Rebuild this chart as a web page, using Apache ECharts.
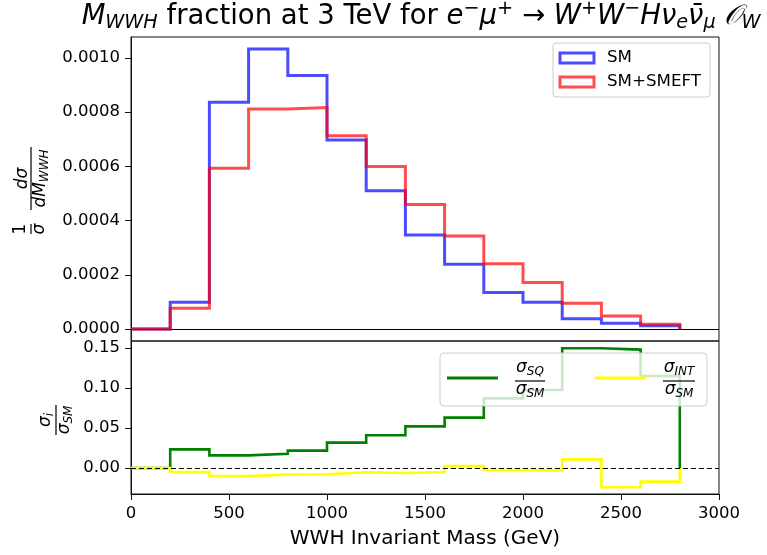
<!DOCTYPE html>
<html>
<head>
<meta charset="utf-8">
<script src="https://cdn.jsdelivr.net/npm/echarts@6/dist/echarts.min.js"></script>
<style>
html,body{margin:0;padding:0;background:#fff;}
#chart{width:767px;height:555px;}
</style>
</head>
<body>
<div id="chart"></div>
<script>
// ---- data ----
const binEdges = [0, 200, 400, 600, 800, 1000, 1200, 1400, 1600, 1800, 2000, 2200, 2400, 2600, 2800];
const smFraction = [0, 0.0000985, 0.000837, 0.001033, 0.000935, 0.000697, 0.000510, 0.000347, 0.000239, 0.000135, 0.0000985, 0.000038, 0.000021, 0.000012];
const smeftFraction = [0, 0.0000763, 0.000593, 0.000812, 0.000817, 0.000713, 0.000600, 0.000459, 0.000343, 0.000241, 0.000172, 0.0000948, 0.000048, 0.0000173];
const sqRatio = [0, 0.0233, 0.0158, 0.0179, 0.0217, 0.0317, 0.0410, 0.0520, 0.0630, 0.0870, 0.0975, 0.1496, 0.1480, 0.1150];
const intRatio = [0, -0.0050, -0.0100, -0.0083, -0.0079, -0.0054, -0.0063, -0.0050, 0.0025, -0.0025, -0.0033, 0.0108, -0.0240, -0.0170];
const xTicks = [0, 500, 1000, 1500, 2000, 2500, 3000];
const yTicksTop = [0, 0.0002, 0.0004, 0.0006, 0.0008, 0.0010];
const yTicksBottom = [0, 0.05, 0.10, 0.15];
const seriesNames = ['SM', 'SM+SMEFT'];

// histogram outline (step) built from bin edges and bin values
function histPath(values) {
  const pts = [];
  values.forEach((v, i) => {
    pts.push([binEdges[i], v]);
    pts.push([binEdges[i + 1], v]);
  });
  pts.push([binEdges[values.length], 0]);
  return pts;
}

const FONT = 'DejaVu Sans';
const BLUE = 'rgba(0,0,255,0.7)';
const RED = 'rgba(255,0,0,0.7)';
const ZTOP = 100;

const mathRich = {
  i: {fontFamily: FONT, fontStyle: 'italic', fontSize: 17, lineHeight: 20, color: '#000'},
  n: {fontFamily: FONT, fontSize: 17, lineHeight: 20, color: '#000'},
  s: {fontFamily: FONT, fontStyle: 'italic', fontSize: 12, lineHeight: 20, height: 12, verticalAlign: 'bottom', color: '#000'}
};
function mtext(x, y, text) {
  return {type: 'text', x: x, y: y, z: ZTOP + 2, style: {text: text, rich: mathRich, align: 'center', textAlign: 'center', verticalAlign: 'middle', textVerticalAlign: 'middle', fill: '#000'}};
}
function mline(x1, y1, x2, y2) {
  return {type: 'line', z: ZTOP + 2, shape: {x1: x1, y1: y1, x2: x2, y2: y2}, style: {stroke: '#000', lineWidth: 1.2}};
}

const titleRich = {
  n: {fontFamily: FONT, fontSize: 27.5, lineHeight: 30, color: '#000'},
  i: {fontFamily: FONT, fontStyle: 'italic', fontSize: 27.5, lineHeight: 30, color: '#000'},
  sub: {fontFamily: FONT, fontStyle: 'italic', fontSize: 19.2, lineHeight: 30, height: 18, verticalAlign: 'bottom', color: '#000'},
  sup: {fontFamily: FONT, fontSize: 19.2, lineHeight: 30, height: 14, verticalAlign: 'top', color: '#000'}
};
const titleText = '{i|M}{sub|WWH}{n| fraction at 3 TeV for }{i|e}{sup|−}{i|μ}{sup|+}{n| → }{i|W}{sup|+}{i|W}{sup|−}{i|Hν}{sub|e}{i|ν̄}{sub|μ}{n| }{i|𝒪}{sub|W}';

const axisText = {color: '#000', fontFamily: FONT, fontSize: 16.5};

const chart = echarts.init(document.getElementById('chart'), null, {renderer: 'canvas'});
chart.setOption({
  animation: false,
  backgroundColor: '#fff',
  grid: [
    {left: 131, right: 48, top: 37, height: 304, show: true, borderColor: '#111', borderWidth: 1, backgroundColor: 'transparent', outerBoundsMode: 'none', containLabel: false},
    {left: 131, right: 48, top: 341, height: 153, show: true, borderColor: '#111', borderWidth: 1, backgroundColor: 'transparent', outerBoundsMode: 'none', containLabel: false}
  ],
  legend: {
    data: [
      {name: seriesNames[0], icon: 'rect', itemStyle: {color: '#fff', borderColor: BLUE, borderWidth: 3}},
      {name: seriesNames[1], icon: 'rect', itemStyle: {color: '#fff', borderColor: RED, borderWidth: 3}}
    ],
    orient: 'vertical',
    left: 553, top: 43,
    padding: [5, 9, 5, 5.5],
    itemGap: 4,
    itemWidth: 34, itemHeight: 10,
    backgroundColor: 'rgba(255,255,255,0.8)',
    borderColor: '#cccccc', borderWidth: 1, borderRadius: 3,
    textStyle: {color: '#000', fontFamily: FONT, fontSize: 16.7, padding: [0, 0, 0, 8], lineHeight: 20},
    selectedMode: false
  },
  xAxis: [
    {gridIndex: 0, type: 'value', min: 0, max: 3000, interval: 500,
     axisLine: {show: false}, axisTick: {show: false}, axisLabel: {show: false}, splitLine: {show: false}},
    {gridIndex: 1, type: 'value', min: 0, max: 3000, interval: 500,
     name: 'WWH Invariant Mass (GeV)', nameLocation: 'middle', nameGap: 35,
     nameTextStyle: {color: '#000', fontFamily: FONT, fontSize: 20},
     axisLine: {show: true, onZero: false, lineStyle: {color: '#111', width: 1}},
     axisTick: {show: true, length: 6, lineStyle: {color: '#111', width: 1}, customValues: xTicks},
     axisLabel: {...axisText, margin: 11, customValues: xTicks, formatter: v => String(v)},
     splitLine: {show: false}}
  ],
  yAxis: [
    {gridIndex: 0, type: 'value', min: -0.0000443, max: 0.0010775,
     axisLine: {show: true, onZero: false, lineStyle: {color: '#111', width: 1}},
     axisTick: {show: true, length: 6, lineStyle: {color: '#111', width: 1}, customValues: yTicksTop},
     axisLabel: {...axisText, margin: 11, customValues: yTicksTop, formatter: v => v.toFixed(4)},
     splitLine: {show: false}},
    {gridIndex: 1, type: 'value', min: -0.0325, max: 0.15875,
     axisLine: {show: true, onZero: false, lineStyle: {color: '#111', width: 1}},
     axisTick: {show: true, length: 6, lineStyle: {color: '#111', width: 1}, customValues: yTicksBottom},
     axisLabel: {...axisText, margin: 11, customValues: yTicksBottom, formatter: v => v.toFixed(2)},
     splitLine: {show: false}}
  ],
  series: [
    {name: seriesNames[0], type: 'line', xAxisIndex: 0, yAxisIndex: 0, showSymbol: false, symbol: 'none',
     data: histPath(smFraction), z: 2,
     lineStyle: {color: BLUE, width: 3, join: 'miter', cap: 'butt'}, itemStyle: {color: BLUE},
     markLine: {silent: true, symbol: 'none', z: 1, label: {show: false}, data: [{yAxis: 0}],
                lineStyle: {color: '#000', width: 1.2, type: 'solid'}}},
    {name: seriesNames[1], type: 'line', xAxisIndex: 0, yAxisIndex: 0, showSymbol: false, symbol: 'none',
     data: histPath(smeftFraction), z: 3,
     lineStyle: {color: RED, width: 3, join: 'miter', cap: 'butt'}, itemStyle: {color: RED}},
    {name: 'sq', type: 'line', xAxisIndex: 1, yAxisIndex: 1, showSymbol: false, symbol: 'none',
     data: histPath(sqRatio), z: 2,
     lineStyle: {color: '#008000', width: 2.6, join: 'miter', cap: 'butt'}},
    {name: 'int', type: 'line', xAxisIndex: 1, yAxisIndex: 1, showSymbol: false, symbol: 'none',
     data: histPath(intRatio), z: 3,
     lineStyle: {color: '#ffff00', width: 2.6, join: 'miter', cap: 'butt'},
     markLine: {silent: true, symbol: 'none', label: {show: false}, data: [{yAxis: 0}],
                lineStyle: {color: '#000', width: 1.2, type: [5, 3]}}}
  ],
  graphic: [
    {type: 'text', x: 421, y: 17, z: ZTOP,
     style: {text: titleText, rich: titleRich, align: 'center', textAlign: 'center', verticalAlign: 'middle', textVerticalAlign: 'middle', fill: '#000'}},
    {type: 'group', x: 31, y: 191, rotation: Math.PI / 2, children: [
      mline(-19, 0, 44, 0),
      mtext(12.5, -8, '{i|dσ}'),
      mtext(12.5, 10, '{i|dM}{s|WWH}'),
      mline(-43, 0, -33, 0),
      mtext(-38, -10, '{n|1}'),
      mtext(-38, 9, '{i|σ}')
    ]},
    {type: 'group', x: 56, y: 420, rotation: Math.PI / 2, children: [
      mline(-15, 0, 15, 0),
      mtext(0, -10, '{i|σ}{s|i}'),
      mtext(0, 9, '{i|σ}{s|SM}')
    ]},
    {type: 'rect', z: ZTOP, shape: {x: 440, y: 353, width: 267, height: 53, r: 4},
     style: {fill: 'rgba(255,255,255,0.8)', stroke: '#cccccc', lineWidth: 1}},
    {type: 'line', z: ZTOP + 1, shape: {x1: 447, y1: 378, x2: 498, y2: 378}, style: {stroke: '#008000', lineWidth: 3}},
    mtext(530, 368, '{i|σ}{s|SQ}'),
    mline(515, 381, 545, 381),
    mtext(530, 390, '{i|σ}{s|SM}'),
    {type: 'line', z: ZTOP + 1, shape: {x1: 595, y1: 378, x2: 646, y2: 378}, style: {stroke: '#ffff00', lineWidth: 3}},
    mtext(679, 368, '{i|σ}{s|INT}'),
    mline(663, 381, 695, 381),
    mtext(679, 390, '{i|σ}{s|SM}')
  ]
});
</script>
</body>
</html>
